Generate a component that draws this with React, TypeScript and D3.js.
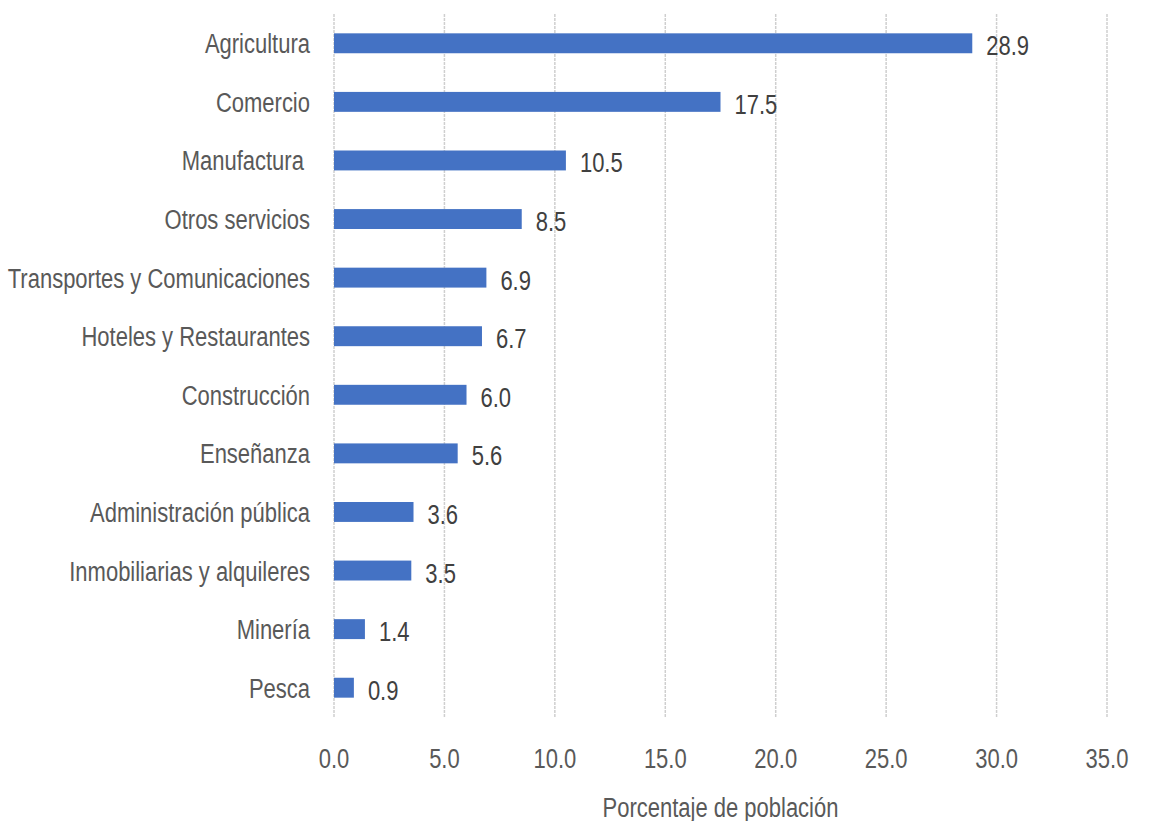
import React from "react";
import * as d3 from "d3";

const categories = [
  "Agricultura",
  "Comercio",
  "Manufactura ",
  "Otros servicios",
  "Transportes y Comunicaciones",
  "Hoteles y Restaurantes",
  "Construcción",
  "Enseñanza",
  "Administración pública",
  "Inmobiliarias y alquileres",
  "Minería",
  "Pesca",
];
const values = [28.9, 17.5, 10.5, 8.5, 6.9, 6.7, 6.0, 5.6, 3.6, 3.5, 1.4, 0.9];
const xTicks = [0, 5, 10, 15, 20, 25, 30, 35];
const axisTitle = "Porcentaje de población";

const W = 1156;
const H = 821;
const left = 334;
const right = 1107;
const top = 14;
const bottom = 717;
const FONT = "'Liberation Sans', Arial, sans-serif";
const TEXT = "#595959";
const SX = 0.815;
const FS = 27;

function T({
  x,
  y,
  anchor = "start",
  fill = TEXT,
  children,
}: {
  x: number;
  y: number;
  anchor?: string;
  fill?: string;
  children: React.ReactNode;
}) {
  return (
    <text
      transform={`translate(${x},${y}) scale(${SX},1)`}
      textAnchor={anchor as any}
      fontSize={FS}
      fill={fill}
      style={{ whiteSpace: "pre" }}
    >
      {children}
    </text>
  );
}

export default function App() {
  const x = d3.scaleLinear().domain([0, 35]).range([left, right]);
  const y = d3
    .scaleBand<string>()
    .domain(categories)
    .range([top, bottom])
    .paddingInner(0.66)
    .paddingOuter(0.33);
  const bw = y.bandwidth();
  return (
    <svg
      width={W}
      height={H}
      style={{ position: "absolute", left: 0, top: 0, background: "#fff" }}
      fontFamily={FONT}
    >
      {xTicks.map((t) => (
        <line
          key={"g" + t}
          x1={x(t)}
          x2={x(t)}
          y1={top}
          y2={bottom}
          stroke="#cfcfcf"
          strokeWidth={1.5}
          strokeDasharray="3,1"
        />
      ))}
      {categories.map((c, i) => {
        const yc = (y(c) as number) + bw / 2;
        return (
          <g key={c}>
            <rect
              x={x(0)}
              y={y(c) as number}
              width={x(values[i]) - x(0)}
              height={bw}
              fill="#4472C4"
            />
            <T x={310} y={yc + 10} anchor="end">
              {c}
            </T>
            <T x={x(values[i]) + 14} y={yc + 12} fill="#404040">
              {values[i].toFixed(1)}
            </T>
          </g>
        );
      })}
      {xTicks.map((t) => (
        <T key={"t" + t} x={x(t)} y={768} anchor="middle">
          {t.toFixed(1)}
        </T>
      ))}
      <T x={(left + right) / 2} y={817} anchor="middle">
        {axisTitle}
      </T>
    </svg>
  );
}
